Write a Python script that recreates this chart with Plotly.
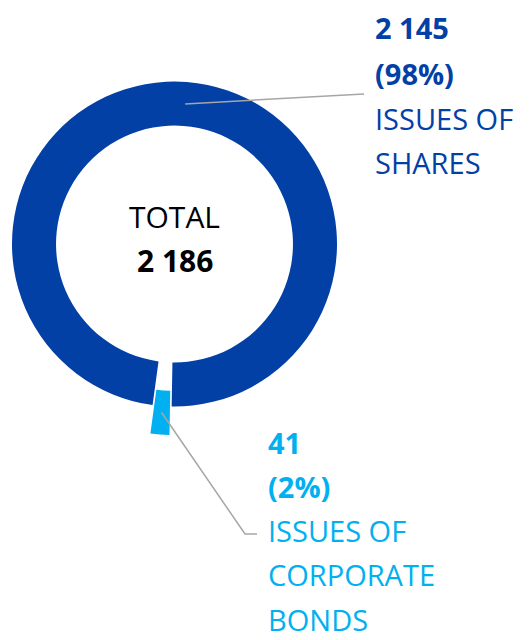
import math
import plotly.graph_objects as go

# ---- data ----
categories = ["ISSUES OF CORPORATE BONDS", "ISSUES OF SHARES"]
values = [41, 2145]
label_lines = [["ISSUES OF", "CORPORATE", "BONDS"], ["ISSUES OF", "SHARES"]]
total_label = "TOTAL"

# ---- style / layout ----
colors = ["#00B0F0", "#0340A6"]
transparent = "rgba(0,0,0,0)"
line_color = "#A6A6A6"
FONT = "Open Sans"
OFF = 8                      # page body margin
W, H = 530 - OFF, 640 - OFF
cx, cy = 174.5, 244.0        # donut centre (window px)
R = 162.5                    # outer radius (px)
hole = 0.729
rotation = 181               # clockwise from 12 o'clock
pull_px = 28.5
label_x = [267, 374]         # left edge of label blocks (window px)
label_y0 = [442, 28]         # centre of first label line (window px)
pitches = [44.3, 45.0]
leader_y = [534, 94]         # y where leader line meets label
fs = 29


def X(px):
    return (px - OFF) / W


def Y(py):
    return 1 - (py - OFF) / H


def fmt(v):
    return f"{v:,}".replace(",", " ")


total = sum(values)
fracs = [v / total for v in values]
pcts = [f"({round(f * 100)}%)" for f in fracs]

# slice mid-angles (deg, clockwise from top)
starts = []
a = rotation
for f in fracs:
    starts.append(a)
    a += f * 360
mids = [s + f * 180 for s, f in zip(starts, fracs)]

# pulled-slice centre
mb = math.radians(mids[0])
cx2 = cx + pull_px * math.sin(mb)
cy2 = cy - pull_px * math.cos(mb)


def dom(x0, y0):
    return dict(x=[X(x0 - R), X(x0 + R)], y=[Y(y0 + R), Y(y0 - R)])


fig = go.Figure()
fig.add_trace(go.Pie(
    labels=categories, values=values, sort=False, direction="clockwise",
    rotation=rotation, hole=hole, textinfo="none", hoverinfo="skip",
    marker=dict(colors=[transparent, colors[1]], line=dict(width=0)),
    domain=dom(cx, cy), showlegend=False))
fig.add_trace(go.Pie(
    labels=categories, values=values, sort=False, direction="clockwise",
    rotation=rotation, hole=hole, textinfo="none", hoverinfo="skip",
    marker=dict(colors=[colors[0], transparent], line=dict(width=0)),
    domain=dom(cx2, cy2), showlegend=False))

rm = R * (1 + hole) / 2
annotations = []
shapes = []
centres = [(cx2, cy2), (cx, cy)]
for i in range(len(values)):
    lines = [(fmt(values[i]), True), (pcts[i], True)] + [(t, False) for t in label_lines[i]]
    for k, (txt, bold) in enumerate(lines):
        annotations.append(dict(
            x=X(label_x[i]), y=Y(label_y0[i] + k * pitches[i]), xref="paper", yref="paper",
            xanchor="left", yanchor="middle", showarrow=False, borderpad=0,
            text=f"<b>{txt}</b>" if bold else txt,
            font=dict(family=FONT, size=fs, color=colors[i])))
    # leader line from slice middle to label
    ccx, ccy = centres[i]
    m = math.radians(mids[i])
    sx, sy = ccx + rm * math.sin(m), ccy - rm * math.cos(m)
    ey = leader_y[i]
    ex = label_x[i] - 10
    if i == 0:
        ex_elbow = ex - 12
        shapes.append(dict(type="path", xref="paper", yref="paper",
                           path=f"M{X(sx)},{Y(sy)} L{X(ex_elbow)},{Y(ey)} L{X(ex)},{Y(ey)}",
                           line=dict(color=line_color, width=1.5)))
    else:
        shapes.append(dict(type="line", xref="paper", yref="paper",
                           x0=X(sx), y0=Y(sy), x1=X(ex), y1=Y(ey),
                           line=dict(color=line_color, width=1.5)))

annotations.append(dict(x=X(cx), y=Y(216), xref="paper", yref="paper", showarrow=False,
                        xanchor="center", yanchor="middle", text=total_label,
                        font=dict(family=FONT, size=30, color="#000000")))
annotations.append(dict(x=X(cx), y=Y(260.7), xref="paper", yref="paper", showarrow=False,
                        xanchor="center", yanchor="middle", text=f"<b>{fmt(total)}</b>",
                        font=dict(family=FONT, size=30, color="#000000")))

fig.update_layout(width=W, height=H, margin=dict(l=0, r=0, t=0, b=0),
                  paper_bgcolor="white", plot_bgcolor="white",
                  annotations=annotations, shapes=shapes, showlegend=False)
fig.write_html("out.html")
